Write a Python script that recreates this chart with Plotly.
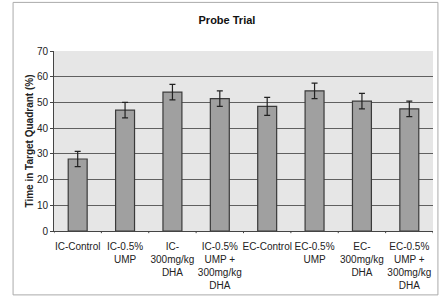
import plotly.graph_objects as go

categories = ["IC-Control", "IC-0.5%<br>UMP", "IC-<br>300mg/kg<br>DHA", "IC-0.5%<br>UMP +<br>300mg/kg<br>DHA",
              "EC-Control", "EC-0.5%<br>UMP", "EC-<br>300mg/kg<br>DHA", "EC-0.5%<br>UMP +<br>300mg/kg<br>DHA"]
values = [28, 47, 54, 51.5, 48.5, 54.5, 50.5, 47.5]
errors = [3, 3, 3, 3, 3.5, 3, 3, 3]
y_ticks = [0, 10, 20, 30, 40, 50, 60, 70]

fig = go.Figure()
fig.add_trace(go.Bar(
    x=list(range(len(categories))), y=values,
    width=0.4,
    marker=dict(color="#a0a0a0", line=dict(color="#3a3a3a", width=1.2)),
    error_y=dict(type="data", array=errors, visible=True, color="#222222", thickness=1.2, width=3),
))
fig.update_layout(
    width=445, height=297,
    margin=dict(l=54, r=12, t=51, b=66),
    paper_bgcolor="white",
    plot_bgcolor="#e6e6e6",
    showlegend=False,
    font=dict(family="Arial, Liberation Sans, sans-serif", size=10, color="#222222"),
    title=dict(text="<b>Probe Trial</b>", x=0.51, xanchor="center", y=0.933, yanchor="middle",
               font=dict(size=11, color="#111111")),
)
fig.update_yaxes(
    range=[0, 70], tickvals=y_ticks, showgrid=True, gridcolor="#606060", gridwidth=1,
    showline=True, linecolor="#444444", linewidth=1, ticks="outside", ticklen=3, tickcolor="#444444",
    zeroline=False, automargin=False,
    title=dict(text="<b>Time in Target Quadrant (%)</b>", font=dict(size=10), standoff=1),
    tickfont=dict(size=10),
)
fig.update_xaxes(
    range=[-0.5, len(categories) - 0.5], tickvals=list(range(len(categories))), ticktext=categories,
    showline=True, linecolor="#444444", linewidth=1, ticks="", showgrid=False, automargin=False,
    tickfont=dict(size=10), tickangle=0, mirror=False, ticklabelstandoff=6,
)
# category boundary ticks
for i in range(len(categories) + 1):
    fig.add_shape(type="line", xref="x", yref="paper", x0=i - 0.5, x1=i - 0.5, y0=0, y1=-0.012,
                  line=dict(color="#444444", width=1))
# outer frame
fig.add_shape(type="rect", xref="paper", yref="paper", x0=-0.108, x1=1.013, y0=-0.355, y1=1.27,
              line=dict(color="#aaaaaa", width=1))
fig.write_html("out.html")
